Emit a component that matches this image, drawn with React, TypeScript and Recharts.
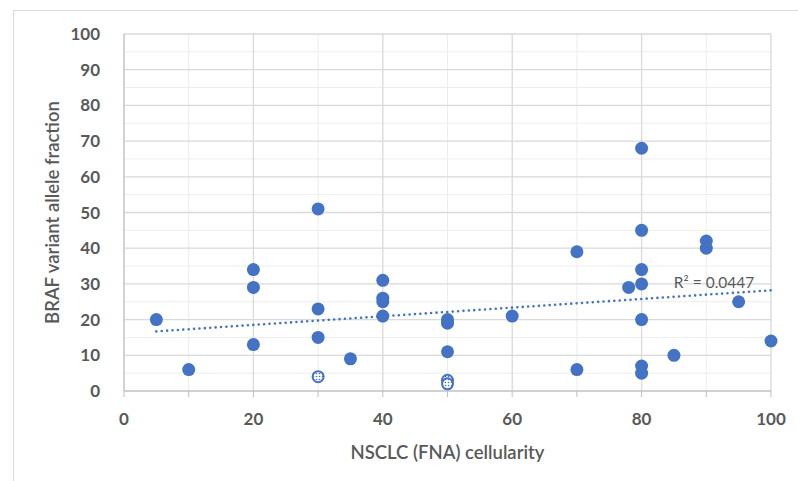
import { ScatterChart, Scatter, XAxis, YAxis, CartesianGrid, ReferenceDot } from "recharts";

const cellularity = [5, 10, 20, 20, 20, 30, 30, 30, 35, 40, 40, 40, 40, 50, 50, 50, 60, 70, 70, 78, 80, 80, 80, 80, 80, 80, 80, 85, 90, 90, 95, 100];
const vaf = [20, 6, 34, 29, 13, 51, 23, 15, 9, 31, 26, 25, 21, 20, 19, 11, 21, 39, 6, 29, 68, 45, 34, 30, 20, 7, 5, 10, 42, 40, 25, 14];

// patterned (hollow) markers
const flaggedX = [30, 50, 50];
const flaggedY = [4, 3, 2];

// dotted trendline end points
const trendX = [5, 100];
const trendY = [16.7, 28.2];

const xTicks = [0, 10, 20, 30, 40, 50, 60, 70, 80, 90, 100];
const xMajor = [0, 20, 40, 60, 80, 100];
const xMinor = [10, 30, 50, 70, 90];
const yTicks = [0, 10, 20, 30, 40, 50, 60, 70, 80, 90, 100];
const yMinor = [5, 15, 25, 35, 45, 55, 65, 75, 85, 95];

const points = cellularity.map((x, i) => ({ x, y: vaf[i] }));
const flagged = flaggedX.map((x, i) => ({ x, y: flaggedY[i] }));
const trend = trendX.map((x, i) => ({ x, y: trendY[i] }));

const BLUE = "#4472C4";
const TEXT = "#595959";
const FONT = "Lato, 'Open Sans', sans-serif";

const Dot = (props: any) => <circle cx={props.cx} cy={props.cy} r={6.5} fill={BLUE} />;

const Hatched = (props: any) => (
  <g>
    <circle cx={props.cx} cy={props.cy} r={5.5} fill="url(#dotPattern)" stroke={BLUE} strokeWidth={2} />
  </g>
);

export default function App() {
  return (
    <div style={{ position: "absolute", left: 0, top: 0, width: 798, height: 481, background: "#fff", overflow: "hidden", fontFamily: FONT }}>
      <div style={{ position: "absolute", left: 13, top: 10, width: 800, height: 500, border: "1px solid #d9d9d9" }} />
      <ScatterChart width={798} height={481} margin={{ top: 34, right: 27, bottom: 10, left: 0 }} style={{ position: "absolute", left: 0, top: 0 }}>
        <defs>
          <pattern id="dotPattern" width="3" height="3" patternUnits="userSpaceOnUse">
            <rect width="3" height="3" fill="#fff" />
            <circle cx="1.5" cy="1.5" r="0.8" fill={BLUE} />
          </pattern>
        </defs>
        <CartesianGrid stroke="#ededed" horizontalValues={yMinor} verticalValues={xMinor} />
        <CartesianGrid stroke="#d9d9d9" strokeWidth={1.3} horizontalValues={yTicks} verticalValues={xMajor} />
        <XAxis
          type="number"
          dataKey="x"
          domain={[0, 100]}
          ticks={xTicks}
          interval={0}
          height={80}
          stroke="#bfbfbf"
          tickSize={6}
          tickMargin={16}
          tickFormatter={(v: number) => (v % 20 === 0 ? String(v) : "")}
          tick={{ fill: TEXT, fontSize: 17, fontWeight: 700, fontFamily: FONT }}
          label={{ value: "NSCLC (FNA) cellularity", position: "insideBottom", offset: 12, fill: TEXT, fontSize: 18.5, fontWeight: 600, fontFamily: FONT }}
        />
        <YAxis
          type="number"
          dataKey="y"
          domain={[0, 100]}
          ticks={yTicks}
          width={124}
          stroke="#bfbfbf"
          tickLine={false}
          tickMargin={18}
          tick={{ fill: TEXT, fontSize: 17, fontWeight: 700, fontFamily: FONT }}
          label={{ value: "BRAF variant allele fraction", angle: -90, position: "insideLeft", offset: 52, style: { textAnchor: "middle" }, fill: TEXT, fontSize: 18.5, fontWeight: 600, fontFamily: FONT }}
        />
        <Scatter
          data={trend}
          isAnimationActive={false}
          line={{ stroke: BLUE, strokeWidth: 2.6, strokeDasharray: "0 5.4", strokeLinecap: "round" }}
          shape={() => <g />}
        />
        <Scatter data={points} isAnimationActive={false} shape={Dot} />
        <Scatter data={flagged} isAnimationActive={false} shape={Hatched} />
        <ReferenceDot
          x={91.2}
          y={30.3}
          r={0}
          fill="none"
          stroke="none"
          label={{ value: "R² = 0.0447", position: "center", fill: TEXT, fontSize: 15.5, fontFamily: FONT }}
        />
      </ScatterChart>
    </div>
  );
}
